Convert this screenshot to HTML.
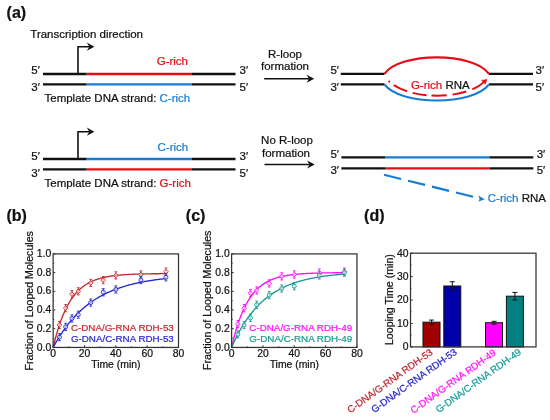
<!DOCTYPE html>
<html><head><meta charset="utf-8"><style>
html,body{margin:0;padding:0;background:#fff;}
svg{display:block;font-family:"Liberation Sans", sans-serif;will-change:transform;}
text{stroke-width:0.22px;}
</style></head><body>
<svg width="550" height="420" viewBox="0 0 550 420">
<rect width="550" height="420" fill="#fff"/>
<text x="6.6" y="18.3" font-size="16" fill="#111" stroke="#111" text-anchor="start" font-weight="bold" >(a)</text>
<line x1="43" y1="74" x2="86.7" y2="74" stroke="#111" stroke-width="2.3" />
<line x1="86.7" y1="74" x2="192" y2="74" stroke="#e60c16" stroke-width="2.3" />
<line x1="192" y1="74" x2="235.5" y2="74" stroke="#111" stroke-width="2.3" />
<line x1="43" y1="84.4" x2="86.7" y2="84.4" stroke="#111" stroke-width="2.3" />
<line x1="86.7" y1="84.4" x2="192" y2="84.4" stroke="#177cd2" stroke-width="2.3" />
<line x1="192" y1="84.4" x2="235.5" y2="84.4" stroke="#111" stroke-width="2.3" />
<text x="31.3" y="74.1" font-size="11.5" fill="#111" stroke="#111" text-anchor="start" font-weight="normal" >5′</text>
<text x="31.3" y="91.2" font-size="11.5" fill="#111" stroke="#111" text-anchor="start" font-weight="normal" >3′</text>
<text x="239.6" y="74.1" font-size="11.5" fill="#111" stroke="#111" text-anchor="start" font-weight="normal" >3′</text>
<text x="239.6" y="91.2" font-size="11.5" fill="#111" stroke="#111" text-anchor="start" font-weight="normal" >5′</text>
<path d="M78 74 V46.7 H90" fill="none" stroke="#111" stroke-width="1.6"/>
<path d="M94.4 46.7 L86.8 42.6 L89.4 46.7 L86.8 50.8 Z" fill="#111"/>
<text x="156.7" y="65.4" font-size="11.5" fill="#e60c16" stroke="#e60c16" text-anchor="start" font-weight="normal" >G-rich</text>
<text x="44.5" y="101.6" font-size="11.5" fill="#111" stroke="#111">Template DNA strand: <tspan fill="#177cd2" stroke="#177cd2">C-rich</tspan></text>
<line x1="43" y1="159" x2="86.7" y2="159" stroke="#111" stroke-width="2.3" />
<line x1="86.7" y1="159" x2="192" y2="159" stroke="#177cd2" stroke-width="2.3" />
<line x1="192" y1="159" x2="235.5" y2="159" stroke="#111" stroke-width="2.3" />
<line x1="43" y1="169.4" x2="86.7" y2="169.4" stroke="#111" stroke-width="2.3" />
<line x1="86.7" y1="169.4" x2="192" y2="169.4" stroke="#e60c16" stroke-width="2.3" />
<line x1="192" y1="169.4" x2="235.5" y2="169.4" stroke="#111" stroke-width="2.3" />
<text x="31.3" y="159.7" font-size="11.5" fill="#111" stroke="#111" text-anchor="start" font-weight="normal" >5′</text>
<text x="31.3" y="176.8" font-size="11.5" fill="#111" stroke="#111" text-anchor="start" font-weight="normal" >3′</text>
<text x="239.6" y="159.7" font-size="11.5" fill="#111" stroke="#111" text-anchor="start" font-weight="normal" >3′</text>
<text x="239.6" y="176.8" font-size="11.5" fill="#111" stroke="#111" text-anchor="start" font-weight="normal" >5′</text>
<path d="M78 159 V131.7 H90" fill="none" stroke="#111" stroke-width="1.6"/>
<path d="M94.4 131.7 L86.8 127.6 L89.4 131.7 L86.8 135.8 Z" fill="#111"/>
<text x="157.5" y="151.0" font-size="11.5" fill="#177cd2" stroke="#177cd2" text-anchor="start" font-weight="normal" >C-rich</text>
<text x="44.5" y="187.2" font-size="11.5" fill="#111" stroke="#111">Template DNA strand: <tspan fill="#e60c16" stroke="#e60c16">G-rich</tspan></text>
<text x="30.3" y="37.5" font-size="11.5" fill="#111" stroke="#111" text-anchor="start" font-weight="normal" >Transcription direction</text>
<text x="285" y="58" font-size="11.5" fill="#111" stroke="#111" text-anchor="middle" font-weight="normal" >R-loop</text>
<text x="285" y="70.3" font-size="11.5" fill="#111" stroke="#111" text-anchor="middle" font-weight="normal" >formation</text>
<line x1="264.2" y1="78.8" x2="309" y2="78.8" stroke="#111" stroke-width="1.5" />
<path d="M314.2 78.8 L306.6 74.8 L309 78.8 L306.6 82.8 Z" fill="#111"/>
<text x="330.4" y="73.7" font-size="11.5" fill="#111" stroke="#111" text-anchor="start" font-weight="normal" >5′</text>
<text x="330.4" y="91.0" font-size="11.5" fill="#111" stroke="#111" text-anchor="start" font-weight="normal" >3′</text>
<text x="535.6" y="73.7" font-size="11.5" fill="#111" stroke="#111" text-anchor="start" font-weight="normal" >3′</text>
<text x="535.6" y="91.0" font-size="11.5" fill="#111" stroke="#111" text-anchor="start" font-weight="normal" >5′</text>
<line x1="340.8" y1="73.8" x2="384.5" y2="73.8" stroke="#111" stroke-width="2.3" />
<line x1="489" y1="73.8" x2="533" y2="73.8" stroke="#111" stroke-width="2.3" />
<line x1="340.8" y1="84.4" x2="384.5" y2="84.4" stroke="#111" stroke-width="2.3" />
<line x1="489" y1="84.4" x2="533" y2="84.4" stroke="#111" stroke-width="2.3" />
<path d="M384.5 73.9 C 399.3 52.2, 473.3 51.5, 489 73.9" fill="none" stroke="#e60c16" stroke-width="2.1"/>
<path d="M384.5 84.4 C 400 105.8, 473.5 105.8, 489 84.4" fill="none" stroke="#177cd2" stroke-width="2.1"/>
<path d="M388.5 81 C 410.5 101.2, 465.5 99.9, 484.5 81.6" fill="none" stroke="#e60c16" stroke-width="2.0" stroke-dasharray="1.8 5 14.7 5.7 14.1 4.9 15.1 6 13.9 6.4 30"/>
<path d="M486.9 79.4 L481.6 80.4 L485.4 84.0 Z" fill="#e60c16" stroke="#e60c16" stroke-width="0.6" stroke-linejoin="round"/>
<text x="410.9" y="88.7" font-size="11.5" fill="#e60c16" stroke="#e60c16">G-rich <tspan fill="#111" stroke="#111">RNA</tspan></text>
<text x="287" y="143.7" font-size="11.5" fill="#111" stroke="#111" text-anchor="middle" font-weight="normal" >No R-loop</text>
<text x="286" y="156.8" font-size="11.5" fill="#111" stroke="#111" text-anchor="middle" font-weight="normal" >formation</text>
<line x1="264.5" y1="164.4" x2="309.5" y2="164.4" stroke="#111" stroke-width="1.5" />
<path d="M314.7 164.4 L307.1 160.4 L309.5 164.4 L307.1 168.4 Z" fill="#111"/>
<text x="330.4" y="157.7" font-size="11.5" fill="#111" stroke="#111" text-anchor="start" font-weight="normal" >5′</text>
<text x="330.4" y="174.4" font-size="11.5" fill="#111" stroke="#111" text-anchor="start" font-weight="normal" >3′</text>
<text x="536.7" y="157.7" font-size="11.5" fill="#111" stroke="#111" text-anchor="start" font-weight="normal" >3′</text>
<text x="536.7" y="174.4" font-size="11.5" fill="#111" stroke="#111" text-anchor="start" font-weight="normal" >5′</text>
<line x1="341.4" y1="157.4" x2="385" y2="157.4" stroke="#111" stroke-width="2.3" />
<line x1="385" y1="157.4" x2="489.4" y2="157.4" stroke="#177cd2" stroke-width="2.3" />
<line x1="489.4" y1="157.4" x2="533.3" y2="157.4" stroke="#111" stroke-width="2.3" />
<line x1="341.4" y1="168.3" x2="385" y2="168.3" stroke="#111" stroke-width="2.3" />
<line x1="385" y1="168.3" x2="489.4" y2="168.3" stroke="#e60c16" stroke-width="2.3" />
<line x1="489.4" y1="168.3" x2="533.3" y2="168.3" stroke="#111" stroke-width="2.3" />
<line x1="384" y1="174.8" x2="473.2" y2="196.8" stroke="#177cd2" stroke-width="2.2" stroke-dasharray="17.6 7.1"/>
<path d="M484.8 199.2 L478.2 195.6 L479.6 198.7 L478.6 201.4 Z" fill="#177cd2"/>
<text x="487.8" y="202.2" font-size="11.5" fill="#177cd2" stroke="#177cd2">C-rich <tspan fill="#111" stroke="#111">RNA</tspan></text>
<text x="6.5" y="221.0" font-size="16" fill="#111" stroke="#111" text-anchor="start" font-weight="bold" >(b)</text>
<line x1="53.15" y1="347.45" x2="55.35" y2="347.45" stroke="#333" stroke-width="1" />
<line x1="53.15" y1="338.09499999999997" x2="54.35" y2="338.09499999999997" stroke="#333" stroke-width="0.8" />
<text x="51.25" y="350.55" font-size="10.4" fill="#111" stroke="#111" text-anchor="end" font-weight="normal" >0.0</text>
<line x1="53.15" y1="328.74" x2="55.35" y2="328.74" stroke="#333" stroke-width="1" />
<line x1="53.15" y1="319.385" x2="54.35" y2="319.385" stroke="#333" stroke-width="0.8" />
<text x="51.25" y="331.84000000000003" font-size="10.4" fill="#111" stroke="#111" text-anchor="end" font-weight="normal" >0.2</text>
<line x1="53.15" y1="310.03" x2="55.35" y2="310.03" stroke="#333" stroke-width="1" />
<line x1="53.15" y1="300.675" x2="54.35" y2="300.675" stroke="#333" stroke-width="0.8" />
<text x="51.25" y="313.13" font-size="10.4" fill="#111" stroke="#111" text-anchor="end" font-weight="normal" >0.4</text>
<line x1="53.15" y1="291.32" x2="55.35" y2="291.32" stroke="#333" stroke-width="1" />
<line x1="53.15" y1="281.965" x2="54.35" y2="281.965" stroke="#333" stroke-width="0.8" />
<text x="51.25" y="294.42" font-size="10.4" fill="#111" stroke="#111" text-anchor="end" font-weight="normal" >0.6</text>
<line x1="53.15" y1="272.61" x2="55.35" y2="272.61" stroke="#333" stroke-width="1" />
<line x1="53.15" y1="263.255" x2="54.35" y2="263.255" stroke="#333" stroke-width="0.8" />
<text x="51.25" y="275.71000000000004" font-size="10.4" fill="#111" stroke="#111" text-anchor="end" font-weight="normal" >0.8</text>
<line x1="53.15" y1="253.9" x2="55.35" y2="253.9" stroke="#333" stroke-width="1" />
<text x="51.25" y="257.0" font-size="10.4" fill="#111" stroke="#111" text-anchor="end" font-weight="normal" >1.0</text>
<line x1="53.15" y1="347.45" x2="53.15" y2="345.25" stroke="#333" stroke-width="1" />
<line x1="68.81875" y1="347.45" x2="68.81875" y2="346.25" stroke="#333" stroke-width="0.8" />
<text x="53.15" y="357.4" font-size="10.4" fill="#111" stroke="#111" text-anchor="middle" font-weight="normal" >0</text>
<line x1="84.4875" y1="347.45" x2="84.4875" y2="345.25" stroke="#333" stroke-width="1" />
<line x1="100.15625" y1="347.45" x2="100.15625" y2="346.25" stroke="#333" stroke-width="0.8" />
<text x="84.4875" y="357.4" font-size="10.4" fill="#111" stroke="#111" text-anchor="middle" font-weight="normal" >20</text>
<line x1="115.82499999999999" y1="347.45" x2="115.82499999999999" y2="345.25" stroke="#333" stroke-width="1" />
<line x1="131.49375" y1="347.45" x2="131.49375" y2="346.25" stroke="#333" stroke-width="0.8" />
<text x="115.82499999999999" y="357.4" font-size="10.4" fill="#111" stroke="#111" text-anchor="middle" font-weight="normal" >40</text>
<line x1="147.1625" y1="347.45" x2="147.1625" y2="345.25" stroke="#333" stroke-width="1" />
<line x1="162.83125" y1="347.45" x2="162.83125" y2="346.25" stroke="#333" stroke-width="0.8" />
<text x="147.1625" y="357.4" font-size="10.4" fill="#111" stroke="#111" text-anchor="middle" font-weight="normal" >60</text>
<line x1="178.5" y1="347.45" x2="178.5" y2="345.25" stroke="#333" stroke-width="1" />
<text x="178.5" y="357.4" font-size="10.4" fill="#111" stroke="#111" text-anchor="middle" font-weight="normal" >80</text>
<text x="115.825" y="368.4" font-size="10.4" fill="#111" stroke="#111" text-anchor="middle" font-weight="normal" >Time (min)</text>
<text transform="translate(33.0,300.8) rotate(-90)" x="0" y="0" font-size="10.64" text-anchor="middle" fill="#111" stroke="#111">Fraction of Looped Molecules</text>
<polyline points="53.15,347.45 53.93,344.17 54.72,341.03 55.50,338.03 56.28,335.16 57.07,332.43 57.85,329.81 58.63,327.31 59.42,324.92 60.20,322.64 60.98,320.46 61.77,318.37 62.55,316.38 63.33,314.48 64.12,312.66 64.90,310.92 65.69,309.26 66.47,307.67 67.25,306.15 68.04,304.71 68.82,303.32 69.60,302.00 70.39,300.73 71.17,299.53 71.95,298.37 72.74,297.27 73.52,296.21 74.30,295.21 75.09,294.24 75.87,293.32 76.65,292.45 77.44,291.61 78.22,290.80 79.00,290.04 79.79,289.30 80.57,288.60 81.35,287.93 82.14,287.29 82.92,286.68 83.70,286.10 84.49,285.54 85.27,285.01 86.05,284.50 86.84,284.01 87.62,283.55 88.40,283.10 89.19,282.68 89.97,282.27 90.75,281.88 91.54,281.51 92.32,281.16 93.11,280.82 93.89,280.50 94.67,280.19 95.46,279.89 96.24,279.61 97.02,279.34 97.81,279.08 98.59,278.84 99.37,278.60 100.16,278.38 100.94,278.16 101.72,277.96 102.51,277.76 103.29,277.58 104.07,277.40 104.86,277.22 105.64,277.06 106.42,276.91 107.21,276.76 107.99,276.61 108.77,276.48 109.56,276.35 110.34,276.22 111.12,276.10 111.91,275.99 112.69,275.88 113.47,275.78 114.26,275.68 115.04,275.58 115.82,275.49 116.61,275.41 117.39,275.32 118.18,275.24 118.96,275.17 119.74,275.10 120.53,275.03 121.31,274.96 122.09,274.90 122.88,274.84 123.66,274.78 124.44,274.73 125.23,274.67 126.01,274.62 126.79,274.58 127.58,274.53 128.36,274.49 129.14,274.44 129.93,274.40 130.71,274.37 131.49,274.33 132.28,274.30 133.06,274.26 133.84,274.23 134.63,274.20 135.41,274.17 136.19,274.14 136.98,274.12 137.76,274.09 138.54,274.07 139.33,274.04 140.11,274.02 140.89,274.00 141.68,273.98 142.46,273.96 143.25,273.94 144.03,273.92 144.81,273.91 145.60,273.89 146.38,273.88 147.16,273.86 147.95,273.85 148.73,273.83 149.51,273.82 150.30,273.81 151.08,273.80 151.86,273.79 152.65,273.78 153.43,273.77 154.21,273.76 155.00,273.75 155.78,273.74 156.56,273.73 157.35,273.72 158.13,273.71 158.91,273.71 159.70,273.70 160.48,273.69 161.26,273.68 162.05,273.68 162.83,273.67 163.61,273.67 164.40,273.66 165.18,273.66 165.96,273.65" fill="none" stroke="#c8282e" stroke-width="1.35"/>
<polyline points="53.15,347.45 53.93,346.01 54.72,344.59 55.50,343.20 56.28,341.84 57.07,340.51 57.85,339.20 58.63,337.92 59.42,336.66 60.20,335.43 60.98,334.22 61.77,333.04 62.55,331.88 63.33,330.74 64.12,329.63 64.90,328.54 65.69,327.47 66.47,326.42 67.25,325.39 68.04,324.38 68.82,323.39 69.60,322.43 70.39,321.48 71.17,320.55 71.95,319.63 72.74,318.74 73.52,317.86 74.30,317.00 75.09,316.16 75.87,315.34 76.65,314.53 77.44,313.73 78.22,312.96 79.00,312.20 79.79,311.45 80.57,310.72 81.35,310.00 82.14,309.30 82.92,308.61 83.70,307.93 84.49,307.27 85.27,306.62 86.05,305.98 86.84,305.36 87.62,304.75 88.40,304.15 89.19,303.56 89.97,302.98 90.75,302.42 91.54,301.87 92.32,301.32 93.11,300.79 93.89,300.27 94.67,299.76 95.46,299.26 96.24,298.77 97.02,298.29 97.81,297.82 98.59,297.36 99.37,296.90 100.16,296.46 100.94,296.02 101.72,295.60 102.51,295.18 103.29,294.77 104.07,294.37 104.86,293.97 105.64,293.59 106.42,293.21 107.21,292.84 107.99,292.47 108.77,292.12 109.56,291.77 110.34,291.43 111.12,291.09 111.91,290.76 112.69,290.44 113.47,290.12 114.26,289.81 115.04,289.51 115.82,289.21 116.61,288.92 117.39,288.64 118.18,288.36 118.96,288.08 119.74,287.81 120.53,287.55 121.31,287.29 122.09,287.03 122.88,286.79 123.66,286.54 124.44,286.30 125.23,286.07 126.01,285.84 126.79,285.62 127.58,285.39 128.36,285.18 129.14,284.97 129.93,284.76 130.71,284.56 131.49,284.36 132.28,284.16 133.06,283.97 133.84,283.78 134.63,283.60 135.41,283.42 136.19,283.24 136.98,283.07 137.76,282.90 138.54,282.73 139.33,282.57 140.11,282.41 140.89,282.25 141.68,282.10 142.46,281.94 143.25,281.80 144.03,281.65 144.81,281.51 145.60,281.37 146.38,281.23 147.16,281.10 147.95,280.97 148.73,280.84 149.51,280.72 150.30,280.59 151.08,280.47 151.86,280.35 152.65,280.24 153.43,280.12 154.21,280.01 155.00,279.90 155.78,279.79 156.56,279.69 157.35,279.59 158.13,279.48 158.91,279.38 159.70,279.29 160.48,279.19 161.26,279.10 162.05,279.01 162.83,278.92 163.61,278.83 164.40,278.74 165.18,278.66 165.96,278.58" fill="none" stroke="#2828d0" stroke-width="1.35"/>
<path d="M59.42 321.40 V328.60 M58.02 321.40 H60.82 M58.02 328.60 H60.82" stroke="#c8282e" stroke-width="0.9" fill="none"/>
<path d="M59.42 322.70 L61.72 325.00 L59.42 327.30 L57.12 325.00 Z" fill="#fff" fill-opacity="0.6" stroke="#c8282e" stroke-width="0.9"/>
<path d="M65.69 304.56 V311.76 M64.28 304.56 H67.09 M64.28 311.76 H67.09" stroke="#c8282e" stroke-width="0.9" fill="none"/>
<path d="M65.69 305.86 L67.98 308.16 L65.69 310.46 L63.39 308.16 Z" fill="#fff" fill-opacity="0.6" stroke="#c8282e" stroke-width="0.9"/>
<path d="M71.95 290.53 V297.73 M70.55 290.53 H73.35 M70.55 297.73 H73.35" stroke="#c8282e" stroke-width="0.9" fill="none"/>
<path d="M71.95 291.83 L74.25 294.13 L71.95 296.43 L69.65 294.13 Z" fill="#fff" fill-opacity="0.6" stroke="#c8282e" stroke-width="0.9"/>
<path d="M78.22 287.72 V294.92 M76.82 287.72 H79.62 M76.82 294.92 H79.62" stroke="#c8282e" stroke-width="0.9" fill="none"/>
<path d="M78.22 289.02 L80.52 291.32 L78.22 293.62 L75.92 291.32 Z" fill="#fff" fill-opacity="0.6" stroke="#c8282e" stroke-width="0.9"/>
<path d="M90.75 279.30 V286.50 M89.35 279.30 H92.16 M89.35 286.50 H92.16" stroke="#c8282e" stroke-width="0.9" fill="none"/>
<path d="M90.75 280.60 L93.05 282.90 L90.75 285.20 L88.45 282.90 Z" fill="#fff" fill-opacity="0.6" stroke="#c8282e" stroke-width="0.9"/>
<path d="M103.29 276.49 V283.69 M101.89 276.49 H104.69 M101.89 283.69 H104.69" stroke="#c8282e" stroke-width="0.9" fill="none"/>
<path d="M103.29 277.79 L105.59 280.09 L103.29 282.39 L100.99 280.09 Z" fill="#fff" fill-opacity="0.6" stroke="#c8282e" stroke-width="0.9"/>
<path d="M115.82 271.82 V279.02 M114.42 271.82 H117.22 M114.42 279.02 H117.22" stroke="#c8282e" stroke-width="0.9" fill="none"/>
<path d="M115.82 273.12 L118.12 275.42 L115.82 277.72 L113.52 275.42 Z" fill="#fff" fill-opacity="0.6" stroke="#c8282e" stroke-width="0.9"/>
<path d="M140.89 270.88 V278.08 M139.49 270.88 H142.29 M139.49 278.08 H142.29" stroke="#c8282e" stroke-width="0.9" fill="none"/>
<path d="M140.89 272.18 L143.19 274.48 L140.89 276.78 L138.59 274.48 Z" fill="#fff" fill-opacity="0.6" stroke="#c8282e" stroke-width="0.9"/>
<path d="M165.96 268.07 V275.27 M164.56 268.07 H167.36 M164.56 275.27 H167.36" stroke="#c8282e" stroke-width="0.9" fill="none"/>
<path d="M165.96 269.37 L168.26 271.67 L165.96 273.97 L163.66 271.67 Z" fill="#fff" fill-opacity="0.6" stroke="#c8282e" stroke-width="0.9"/>
<path d="M59.42 333.56 V340.76 M58.02 333.56 H60.82 M58.02 340.76 H60.82" stroke="#2828d0" stroke-width="0.9" fill="none"/>
<circle cx="59.42" cy="337.16" r="2.0" fill="#fff" fill-opacity="0.6" stroke="#2828d0" stroke-width="0.9"/>
<path d="M65.69 323.27 V330.47 M64.28 323.27 H67.09 M64.28 330.47 H67.09" stroke="#2828d0" stroke-width="0.9" fill="none"/>
<circle cx="65.69" cy="326.87" r="2.0" fill="#fff" fill-opacity="0.6" stroke="#2828d0" stroke-width="0.9"/>
<path d="M71.95 314.85 V322.05 M70.55 314.85 H73.35 M70.55 322.05 H73.35" stroke="#2828d0" stroke-width="0.9" fill="none"/>
<circle cx="71.95" cy="318.45" r="2.0" fill="#fff" fill-opacity="0.6" stroke="#2828d0" stroke-width="0.9"/>
<path d="M78.22 311.11 V318.31 M76.82 311.11 H79.62 M76.82 318.31 H79.62" stroke="#2828d0" stroke-width="0.9" fill="none"/>
<circle cx="78.22" cy="314.71" r="2.0" fill="#fff" fill-opacity="0.6" stroke="#2828d0" stroke-width="0.9"/>
<path d="M90.75 298.95 V306.15 M89.35 298.95 H92.16 M89.35 306.15 H92.16" stroke="#2828d0" stroke-width="0.9" fill="none"/>
<circle cx="90.75" cy="302.55" r="2.0" fill="#fff" fill-opacity="0.6" stroke="#2828d0" stroke-width="0.9"/>
<path d="M103.29 288.66 V295.86 M101.89 288.66 H104.69 M101.89 295.86 H104.69" stroke="#2828d0" stroke-width="0.9" fill="none"/>
<circle cx="103.29" cy="292.26" r="2.0" fill="#fff" fill-opacity="0.6" stroke="#2828d0" stroke-width="0.9"/>
<path d="M115.82 285.85 V293.05 M114.42 285.85 H117.22 M114.42 293.05 H117.22" stroke="#2828d0" stroke-width="0.9" fill="none"/>
<circle cx="115.82" cy="289.45" r="2.0" fill="#fff" fill-opacity="0.6" stroke="#2828d0" stroke-width="0.9"/>
<path d="M140.89 276.49 V283.69 M139.49 276.49 H142.29 M139.49 283.69 H142.29" stroke="#2828d0" stroke-width="0.9" fill="none"/>
<circle cx="140.89" cy="280.09" r="2.0" fill="#fff" fill-opacity="0.6" stroke="#2828d0" stroke-width="0.9"/>
<path d="M165.96 273.69 V280.89 M164.56 273.69 H167.36 M164.56 280.89 H167.36" stroke="#2828d0" stroke-width="0.9" fill="none"/>
<circle cx="165.96" cy="277.29" r="2.0" fill="#fff" fill-opacity="0.6" stroke="#2828d0" stroke-width="0.9"/>
<rect x="53.15" y="253.9" width="125.35" height="93.54999999999998" fill="none" stroke="#333" stroke-width="1.25"/>
<text x="173.8" y="330.9" font-size="9.8" fill="#c8282e" stroke="#c8282e" text-anchor="end" font-weight="normal" >C-DNA/G-RNA RDH-53</text>
<text x="173.8" y="342.0" font-size="9.8" fill="#2828d0" stroke="#2828d0" text-anchor="end" font-weight="normal" >G-DNA/C-RNA RDH-53</text>
<text x="185.8" y="221.0" font-size="16" fill="#111" stroke="#111" text-anchor="start" font-weight="bold" >(c)</text>
<line x1="231.6" y1="347.45" x2="233.79999999999998" y2="347.45" stroke="#333" stroke-width="1" />
<line x1="231.6" y1="338.09499999999997" x2="232.79999999999998" y2="338.09499999999997" stroke="#333" stroke-width="0.8" />
<text x="229.7" y="350.55" font-size="10.4" fill="#111" stroke="#111" text-anchor="end" font-weight="normal" >0.0</text>
<line x1="231.6" y1="328.74" x2="233.79999999999998" y2="328.74" stroke="#333" stroke-width="1" />
<line x1="231.6" y1="319.385" x2="232.79999999999998" y2="319.385" stroke="#333" stroke-width="0.8" />
<text x="229.7" y="331.84000000000003" font-size="10.4" fill="#111" stroke="#111" text-anchor="end" font-weight="normal" >0.2</text>
<line x1="231.6" y1="310.03" x2="233.79999999999998" y2="310.03" stroke="#333" stroke-width="1" />
<line x1="231.6" y1="300.675" x2="232.79999999999998" y2="300.675" stroke="#333" stroke-width="0.8" />
<text x="229.7" y="313.13" font-size="10.4" fill="#111" stroke="#111" text-anchor="end" font-weight="normal" >0.4</text>
<line x1="231.6" y1="291.32" x2="233.79999999999998" y2="291.32" stroke="#333" stroke-width="1" />
<line x1="231.6" y1="281.965" x2="232.79999999999998" y2="281.965" stroke="#333" stroke-width="0.8" />
<text x="229.7" y="294.42" font-size="10.4" fill="#111" stroke="#111" text-anchor="end" font-weight="normal" >0.6</text>
<line x1="231.6" y1="272.61" x2="233.79999999999998" y2="272.61" stroke="#333" stroke-width="1" />
<line x1="231.6" y1="263.255" x2="232.79999999999998" y2="263.255" stroke="#333" stroke-width="0.8" />
<text x="229.7" y="275.71000000000004" font-size="10.4" fill="#111" stroke="#111" text-anchor="end" font-weight="normal" >0.8</text>
<line x1="231.6" y1="253.9" x2="233.79999999999998" y2="253.9" stroke="#333" stroke-width="1" />
<text x="229.7" y="257.0" font-size="10.4" fill="#111" stroke="#111" text-anchor="end" font-weight="normal" >1.0</text>
<line x1="231.6" y1="347.45" x2="231.6" y2="345.25" stroke="#333" stroke-width="1" />
<line x1="247.26874999999998" y1="347.45" x2="247.26874999999998" y2="346.25" stroke="#333" stroke-width="0.8" />
<text x="231.6" y="357.4" font-size="10.4" fill="#111" stroke="#111" text-anchor="middle" font-weight="normal" >0</text>
<line x1="262.9375" y1="347.45" x2="262.9375" y2="345.25" stroke="#333" stroke-width="1" />
<line x1="278.60625" y1="347.45" x2="278.60625" y2="346.25" stroke="#333" stroke-width="0.8" />
<text x="262.9375" y="357.4" font-size="10.4" fill="#111" stroke="#111" text-anchor="middle" font-weight="normal" >20</text>
<line x1="294.275" y1="347.45" x2="294.275" y2="345.25" stroke="#333" stroke-width="1" />
<line x1="309.94375" y1="347.45" x2="309.94375" y2="346.25" stroke="#333" stroke-width="0.8" />
<text x="294.275" y="357.4" font-size="10.4" fill="#111" stroke="#111" text-anchor="middle" font-weight="normal" >40</text>
<line x1="325.6125" y1="347.45" x2="325.6125" y2="345.25" stroke="#333" stroke-width="1" />
<line x1="341.28125" y1="347.45" x2="341.28125" y2="346.25" stroke="#333" stroke-width="0.8" />
<text x="325.6125" y="357.4" font-size="10.4" fill="#111" stroke="#111" text-anchor="middle" font-weight="normal" >60</text>
<line x1="356.95" y1="347.45" x2="356.95" y2="345.25" stroke="#333" stroke-width="1" />
<text x="356.95" y="357.4" font-size="10.4" fill="#111" stroke="#111" text-anchor="middle" font-weight="normal" >80</text>
<text x="294.275" y="368.4" font-size="10.4" fill="#111" stroke="#111" text-anchor="middle" font-weight="normal" >Time (min)</text>
<text transform="translate(211.2,300.3) rotate(-90)" x="0" y="0" font-size="10.64" text-anchor="middle" fill="#111" stroke="#111">Fraction of Looped Molecules</text>
<polyline points="231.60,347.45 232.38,344.06 233.17,340.83 233.95,337.75 234.73,334.80 235.52,331.98 236.30,329.30 237.08,326.73 237.87,324.29 238.65,321.95 239.43,319.72 240.22,317.58 241.00,315.55 241.78,313.61 242.57,311.75 243.35,309.98 244.13,308.29 244.92,306.68 245.70,305.14 246.49,303.66 247.27,302.26 248.05,300.92 248.84,299.64 249.62,298.41 250.40,297.25 251.19,296.13 251.97,295.07 252.75,294.05 253.54,293.08 254.32,292.16 255.10,291.27 255.89,290.43 256.67,289.62 257.45,288.85 258.24,288.12 259.02,287.42 259.80,286.75 260.59,286.11 261.37,285.50 262.15,284.91 262.94,284.36 263.72,283.82 264.50,283.32 265.29,282.83 266.07,282.37 266.85,281.93 267.64,281.51 268.42,281.10 269.20,280.72 269.99,280.35 270.77,280.00 271.56,279.67 272.34,279.35 273.12,279.04 273.91,278.75 274.69,278.48 275.47,278.21 276.26,277.96 277.04,277.71 277.82,277.48 278.61,277.26 279.39,277.05 280.17,276.85 280.96,276.66 281.74,276.48 282.52,276.30 283.31,276.13 284.09,275.98 284.87,275.82 285.66,275.68 286.44,275.54 287.22,275.41 288.01,275.28 288.79,275.16 289.57,275.04 290.36,274.93 291.14,274.83 291.92,274.73 292.71,274.63 293.49,274.54 294.27,274.45 295.06,274.37 295.84,274.29 296.63,274.21 297.41,274.14 298.19,274.07 298.98,274.01 299.76,273.94 300.54,273.88 301.33,273.83 302.11,273.77 302.89,273.72 303.68,273.67 304.46,273.62 305.24,273.57 306.03,273.53 306.81,273.49 307.59,273.45 308.38,273.41 309.16,273.37 309.94,273.34 310.73,273.31 311.51,273.28 312.29,273.25 313.08,273.22 313.86,273.19 314.64,273.16 315.43,273.14 316.21,273.11 316.99,273.09 317.78,273.07 318.56,273.05 319.34,273.03 320.13,273.01 320.91,272.99 321.70,272.97 322.48,272.96 323.26,272.94 324.05,272.93 324.83,272.91 325.61,272.90 326.40,272.89 327.18,272.87 327.96,272.86 328.75,272.85 329.53,272.84 330.31,272.83 331.10,272.82 331.88,272.81 332.66,272.80 333.45,272.79 334.23,272.78 335.01,272.78 335.80,272.77 336.58,272.76 337.36,272.75 338.15,272.75 338.93,272.74 339.71,272.74 340.50,272.73 341.28,272.72 342.06,272.72 342.85,272.71 343.63,272.71 344.41,272.71" fill="none" stroke="#ff10ff" stroke-width="1.35"/>
<polyline points="231.60,347.45 232.38,345.67 233.17,343.93 233.95,342.23 234.73,340.57 235.52,338.95 236.30,337.36 237.08,335.82 237.87,334.31 238.65,332.83 239.43,331.40 240.22,329.99 241.00,328.62 241.78,327.28 242.57,325.97 243.35,324.69 244.13,323.45 244.92,322.23 245.70,321.04 246.49,319.88 247.27,318.74 248.05,317.63 248.84,316.55 249.62,315.50 250.40,314.47 251.19,313.46 251.97,312.48 252.75,311.52 253.54,310.58 254.32,309.66 255.10,308.77 255.89,307.90 256.67,307.04 257.45,306.21 258.24,305.40 259.02,304.61 259.80,303.83 260.59,303.07 261.37,302.34 262.15,301.61 262.94,300.91 263.72,300.22 264.50,299.55 265.29,298.89 266.07,298.25 266.85,297.63 267.64,297.02 268.42,296.42 269.20,295.84 269.99,295.27 270.77,294.72 271.56,294.17 272.34,293.64 273.12,293.13 273.91,292.62 274.69,292.13 275.47,291.65 276.26,291.18 277.04,290.72 277.82,290.27 278.61,289.83 279.39,289.41 280.17,288.99 280.96,288.58 281.74,288.18 282.52,287.80 283.31,287.42 284.09,287.05 284.87,286.68 285.66,286.33 286.44,285.99 287.22,285.65 288.01,285.32 288.79,285.00 289.57,284.69 290.36,284.38 291.14,284.08 291.92,283.79 292.71,283.50 293.49,283.23 294.27,282.95 295.06,282.69 295.84,282.43 296.63,282.18 297.41,281.93 298.19,281.69 298.98,281.45 299.76,281.22 300.54,281.00 301.33,280.78 302.11,280.56 302.89,280.36 303.68,280.15 304.46,279.95 305.24,279.76 306.03,279.57 306.81,279.38 307.59,279.20 308.38,279.02 309.16,278.85 309.94,278.68 310.73,278.52 311.51,278.36 312.29,278.20 313.08,278.04 313.86,277.89 314.64,277.75 315.43,277.61 316.21,277.47 316.99,277.33 317.78,277.20 318.56,277.07 319.34,276.94 320.13,276.82 320.91,276.69 321.70,276.58 322.48,276.46 323.26,276.35 324.05,276.24 324.83,276.13 325.61,276.03 326.40,275.92 327.18,275.82 327.96,275.73 328.75,275.63 329.53,275.54 330.31,275.45 331.10,275.36 331.88,275.27 332.66,275.19 333.45,275.10 334.23,275.02 335.01,274.94 335.80,274.87 336.58,274.79 337.36,274.72 338.15,274.65 338.93,274.58 339.71,274.51 340.50,274.44 341.28,274.38 342.06,274.31 342.85,274.25 343.63,274.19 344.41,274.13" fill="none" stroke="#1a9a90" stroke-width="1.35"/>
<path d="M237.87 320.46 V327.66 M236.47 320.46 H239.27 M236.47 327.66 H239.27" stroke="#ff10ff" stroke-width="0.9" fill="none"/>
<path d="M237.87 321.76 L240.17 324.06 L237.87 326.36 L235.57 324.06 Z" fill="#fff" fill-opacity="0.6" stroke="#ff10ff" stroke-width="0.9"/>
<path d="M244.13 304.56 V311.76 M242.73 304.56 H245.53 M242.73 311.76 H245.53" stroke="#ff10ff" stroke-width="0.9" fill="none"/>
<path d="M244.13 305.86 L246.44 308.16 L244.13 310.46 L241.83 308.16 Z" fill="#fff" fill-opacity="0.6" stroke="#ff10ff" stroke-width="0.9"/>
<path d="M250.40 289.59 V296.79 M249.00 289.59 H251.80 M249.00 296.79 H251.80" stroke="#ff10ff" stroke-width="0.9" fill="none"/>
<path d="M250.40 290.89 L252.70 293.19 L250.40 295.49 L248.10 293.19 Z" fill="#fff" fill-opacity="0.6" stroke="#ff10ff" stroke-width="0.9"/>
<path d="M256.67 286.78 V293.98 M255.27 286.78 H258.07 M255.27 293.98 H258.07" stroke="#ff10ff" stroke-width="0.9" fill="none"/>
<path d="M256.67 288.08 L258.97 290.38 L256.67 292.68 L254.37 290.38 Z" fill="#fff" fill-opacity="0.6" stroke="#ff10ff" stroke-width="0.9"/>
<path d="M269.20 279.77 V286.97 M267.81 279.77 H270.60 M267.81 286.97 H270.60" stroke="#ff10ff" stroke-width="0.9" fill="none"/>
<path d="M269.20 281.07 L271.50 283.37 L269.20 285.67 L266.90 283.37 Z" fill="#fff" fill-opacity="0.6" stroke="#ff10ff" stroke-width="0.9"/>
<path d="M281.74 272.75 V279.95 M280.34 272.75 H283.14 M280.34 279.95 H283.14" stroke="#ff10ff" stroke-width="0.9" fill="none"/>
<path d="M281.74 274.05 L284.04 276.35 L281.74 278.65 L279.44 276.35 Z" fill="#fff" fill-opacity="0.6" stroke="#ff10ff" stroke-width="0.9"/>
<path d="M294.27 270.88 V278.08 M292.88 270.88 H295.67 M292.88 278.08 H295.67" stroke="#ff10ff" stroke-width="0.9" fill="none"/>
<path d="M294.27 272.18 L296.57 274.48 L294.27 276.78 L291.97 274.48 Z" fill="#fff" fill-opacity="0.6" stroke="#ff10ff" stroke-width="0.9"/>
<path d="M319.34 269.01 V276.21 M317.94 269.01 H320.74 M317.94 276.21 H320.74" stroke="#ff10ff" stroke-width="0.9" fill="none"/>
<path d="M319.34 270.31 L321.64 272.61 L319.34 274.91 L317.04 272.61 Z" fill="#fff" fill-opacity="0.6" stroke="#ff10ff" stroke-width="0.9"/>
<path d="M344.41 268.07 V275.27 M343.01 268.07 H345.81 M343.01 275.27 H345.81" stroke="#ff10ff" stroke-width="0.9" fill="none"/>
<path d="M344.41 269.37 L346.71 271.67 L344.41 273.97 L342.11 271.67 Z" fill="#fff" fill-opacity="0.6" stroke="#ff10ff" stroke-width="0.9"/>
<path d="M237.87 330.75 V337.95 M236.47 330.75 H239.27 M236.47 337.95 H239.27" stroke="#1a9a90" stroke-width="0.9" fill="none"/>
<circle cx="237.87" cy="334.35" r="2.0" fill="#fff" fill-opacity="0.6" stroke="#1a9a90" stroke-width="0.9"/>
<path d="M244.13 321.40 V328.60 M242.73 321.40 H245.53 M242.73 328.60 H245.53" stroke="#1a9a90" stroke-width="0.9" fill="none"/>
<circle cx="244.13" cy="325.00" r="2.0" fill="#fff" fill-opacity="0.6" stroke="#1a9a90" stroke-width="0.9"/>
<path d="M250.40 314.29 V321.49 M249.00 314.29 H251.80 M249.00 321.49 H251.80" stroke="#1a9a90" stroke-width="0.9" fill="none"/>
<circle cx="250.40" cy="317.89" r="2.0" fill="#fff" fill-opacity="0.6" stroke="#1a9a90" stroke-width="0.9"/>
<path d="M256.67 301.19 V308.39 M255.27 301.19 H258.07 M255.27 308.39 H258.07" stroke="#1a9a90" stroke-width="0.9" fill="none"/>
<circle cx="256.67" cy="304.79" r="2.0" fill="#fff" fill-opacity="0.6" stroke="#1a9a90" stroke-width="0.9"/>
<path d="M269.20 291.46 V298.66 M267.81 291.46 H270.60 M267.81 298.66 H270.60" stroke="#1a9a90" stroke-width="0.9" fill="none"/>
<circle cx="269.20" cy="295.06" r="2.0" fill="#fff" fill-opacity="0.6" stroke="#1a9a90" stroke-width="0.9"/>
<path d="M281.74 284.91 V292.11 M280.34 284.91 H283.14 M280.34 292.11 H283.14" stroke="#1a9a90" stroke-width="0.9" fill="none"/>
<circle cx="281.74" cy="288.51" r="2.0" fill="#fff" fill-opacity="0.6" stroke="#1a9a90" stroke-width="0.9"/>
<path d="M294.27 282.57 V289.77 M292.88 282.57 H295.67 M292.88 289.77 H295.67" stroke="#1a9a90" stroke-width="0.9" fill="none"/>
<circle cx="294.27" cy="286.17" r="2.0" fill="#fff" fill-opacity="0.6" stroke="#1a9a90" stroke-width="0.9"/>
<path d="M319.34 271.82 V279.02 M317.94 271.82 H320.74 M317.94 279.02 H320.74" stroke="#1a9a90" stroke-width="0.9" fill="none"/>
<circle cx="319.34" cy="275.42" r="2.0" fill="#fff" fill-opacity="0.6" stroke="#1a9a90" stroke-width="0.9"/>
<path d="M344.41 269.01 V276.21 M343.01 269.01 H345.81 M343.01 276.21 H345.81" stroke="#1a9a90" stroke-width="0.9" fill="none"/>
<circle cx="344.41" cy="272.61" r="2.0" fill="#fff" fill-opacity="0.6" stroke="#1a9a90" stroke-width="0.9"/>
<rect x="231.6" y="253.9" width="125.35" height="93.54999999999998" fill="none" stroke="#333" stroke-width="1.25"/>
<text x="352.25" y="330.9" font-size="9.8" fill="#ff10ff" stroke="#ff10ff" text-anchor="end" font-weight="normal" >C-DNA/G-RNA RDH-49</text>
<text x="352.25" y="342.0" font-size="9.8" fill="#1a9a90" stroke="#1a9a90" text-anchor="end" font-weight="normal" >G-DNA/C-RNA RDH-49</text>
<text x="364.1" y="221.3" font-size="16" fill="#111" stroke="#111" text-anchor="start" font-weight="bold" >(d)</text>
<line x1="410.5" y1="346.9" x2="412.7" y2="346.9" stroke="#333" stroke-width="1" />
<text x="408.5" y="350.29999999999995" font-size="10.4" fill="#111" stroke="#111" text-anchor="end" font-weight="normal" >0</text>
<line x1="410.5" y1="335.1875" x2="411.7" y2="335.1875" stroke="#333" stroke-width="0.8" />
<line x1="410.5" y1="323.47499999999997" x2="412.7" y2="323.47499999999997" stroke="#333" stroke-width="1" />
<text x="408.5" y="326.87499999999994" font-size="10.4" fill="#111" stroke="#111" text-anchor="end" font-weight="normal" >10</text>
<line x1="410.5" y1="311.7625" x2="411.7" y2="311.7625" stroke="#333" stroke-width="0.8" />
<line x1="410.5" y1="300.04999999999995" x2="412.7" y2="300.04999999999995" stroke="#333" stroke-width="1" />
<text x="408.5" y="303.44999999999993" font-size="10.4" fill="#111" stroke="#111" text-anchor="end" font-weight="normal" >20</text>
<line x1="410.5" y1="288.3375" x2="411.7" y2="288.3375" stroke="#333" stroke-width="0.8" />
<line x1="410.5" y1="276.625" x2="412.7" y2="276.625" stroke="#333" stroke-width="1" />
<text x="408.5" y="280.025" font-size="10.4" fill="#111" stroke="#111" text-anchor="end" font-weight="normal" >30</text>
<line x1="410.5" y1="264.9125" x2="411.7" y2="264.9125" stroke="#333" stroke-width="0.8" />
<line x1="410.5" y1="253.2" x2="412.7" y2="253.2" stroke="#333" stroke-width="1" />
<text x="408.5" y="256.59999999999997" font-size="10.4" fill="#111" stroke="#111" text-anchor="end" font-weight="normal" >40</text>
<text transform="translate(393.4,299.6) rotate(-90)" font-size="10.64" text-anchor="middle" fill="#111" stroke="#111">Looping Time (min)</text>
<rect x="423.0" y="322.19" width="17" height="24.71" fill="#a00000" stroke="#111" stroke-width="1"/>
<path d="M431.5 320.08 V324.29 M429.0 320.08 H434.0 M429.0 324.29 H434.0" stroke="#111" stroke-width="1" fill="none"/>
<rect x="443.8" y="286.00" width="17" height="60.90" fill="#0000aa" stroke="#111" stroke-width="1"/>
<path d="M452.3 281.78 V290.21 M449.8 281.78 H454.8 M449.8 290.21 H454.8" stroke="#111" stroke-width="1" fill="none"/>
<rect x="485.5" y="322.70" width="17" height="24.20" fill="#ff00ff" stroke="#111" stroke-width="1"/>
<path d="M494.0 321.30 V324.11 M491.5 321.30 H496.5 M491.5 324.11 H496.5" stroke="#111" stroke-width="1" fill="none"/>
<rect x="506.4" y="296.18" width="17" height="50.72" fill="#008080" stroke="#111" stroke-width="1"/>
<path d="M514.9 292.44 V299.93 M512.4 292.44 H517.4 M512.4 299.93 H517.4" stroke="#111" stroke-width="1" fill="none"/>
<rect x="410.5" y="253.2" width="125.5" height="93.69999999999999" fill="none" stroke="#333" stroke-width="1.25"/>
<text transform="translate(350.2,413.6) rotate(-35.7)" font-size="9.78" fill="#bb2530" stroke="#bb2530">C-DNA/G-RNA RDH-53</text>
<text transform="translate(374.3,413.3) rotate(-35.7)" font-size="9.78" fill="#2424c8" stroke="#2424c8">G-DNA/C-RNA RDH-53</text>
<text transform="translate(413.5,414.0) rotate(-35.7)" font-size="9.78" fill="#ff10ff" stroke="#ff10ff">C-DNA/G-RNA RDH-49</text>
<text transform="translate(438.7,413.3) rotate(-35.7)" font-size="9.78" fill="#14999a" stroke="#14999a">G-DNA/C-RNA RDH-49</text>
</svg>
</body></html>
